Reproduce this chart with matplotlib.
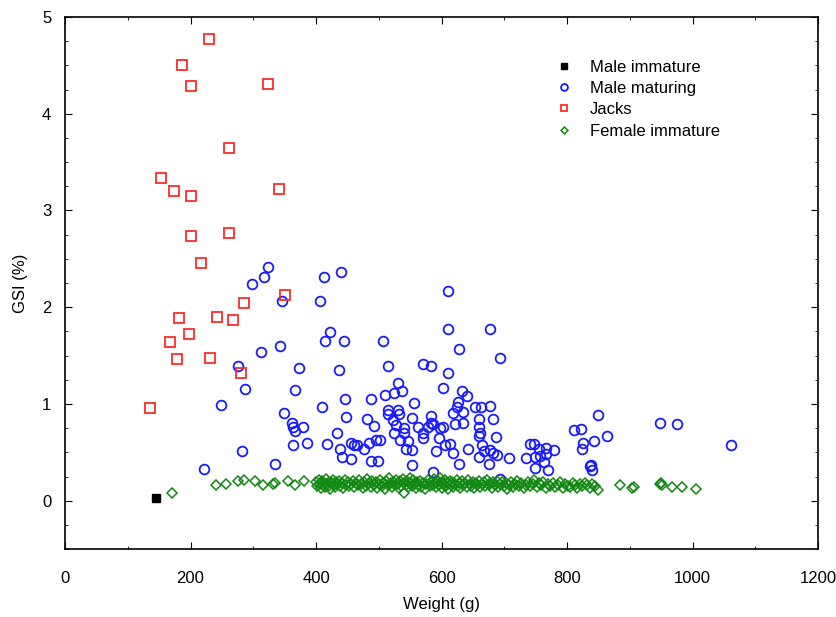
import matplotlib
matplotlib.use("Agg")
import matplotlib.pyplot as plt
from matplotlib.ticker import MultipleLocator

plt.rcParams['font.family'] = ['Liberation Sans', 'DejaVu Sans']

# Male immature
mi_w = [145]
mi_gsi = [0.03]

# Male maturing
mm_w = [323, 317, 298, 412, 440, 346, 407, 422, 414, 444, 313, 343, 276, 373, 437,
        287, 366, 446, 487, 248, 409, 349, 448, 482,
        611, 611, 677, 628, 507, 515, 570, 583, 611, 530, 603, 632, 640, 626, 510,
        524, 537, 556, 624, 653, 515, 530, 515, 532, 553, 583, 618, 635, 659, 492,
        361, 364, 366, 379, 433, 523, 528, 525, 541, 541, 562, 570, 570, 578, 583,
        586, 598, 602, 596, 622, 635, 659, 661, 659, 534, 547, 456, 461, 466, 484,
        495, 502, 476, 439, 418, 386, 364, 442, 455, 487, 498, 543, 553, 592, 605,
        614, 618, 643, 659, 667, 628, 553, 586, 282, 334, 221,
        693, 678, 663, 682, 687, 664, 678, 682, 689, 676, 708, 693, 734, 741, 747,
        749, 756, 757, 767, 767, 779, 764, 770, 749, 811, 822, 850, 826, 824, 843,
        863, 836, 839, 840, 948, 975, 1061]
mm_gsi = [2.42, 2.31, 2.24, 2.31, 2.36, 2.06, 2.06, 1.74, 1.65, 1.65, 1.54, 1.60, 1.39, 1.37, 1.35,
          1.15, 1.14, 1.05, 1.05, 0.99, 0.97, 0.91, 0.87, 0.84,
          2.17, 1.78, 1.78, 1.57, 1.65, 1.39, 1.41, 1.39, 1.32, 1.22, 1.17, 1.13, 1.08, 1.02, 1.09,
          1.11, 1.13, 1.01, 0.97, 0.97, 0.94, 0.94, 0.90, 0.90, 0.86, 0.88, 0.91, 0.92, 0.84, 0.77,
          0.80, 0.76, 0.72, 0.76, 0.70, 0.83, 0.78, 0.70, 0.75, 0.70, 0.76, 0.70, 0.65, 0.76, 0.80,
          0.79, 0.75, 0.76, 0.65, 0.79, 0.80, 0.76, 0.70, 0.67, 0.63, 0.62, 0.60, 0.58, 0.58, 0.60,
          0.63, 0.63, 0.535, 0.535, 0.59, 0.60, 0.58, 0.45, 0.43, 0.41, 0.41, 0.535, 0.52, 0.51, 0.58,
          0.59, 0.49, 0.535, 0.45, 0.51, 0.38, 0.37, 0.30, 0.51, 0.38, 0.33,
          1.48, 0.98, 0.97, 0.84, 0.66, 0.58, 0.52, 0.49, 0.47, 0.38, 0.44, 0.22, 0.44, 0.59, 0.59,
          0.45, 0.535, 0.46, 0.55, 0.48, 0.52, 0.40, 0.32, 0.34, 0.73, 0.74, 0.89, 0.60, 0.535, 0.62,
          0.67, 0.355, 0.37, 0.32, 0.80, 0.79, 0.58]

# Jacks
jk_w = [229, 186, 200, 323, 261, 153, 173, 200, 341, 200, 261, 216, 285, 351, 181,
        242, 268, 198, 167, 179, 231, 280, 136]
jk_gsi = [4.77, 4.50, 4.29, 4.31, 3.65, 3.34, 3.20, 3.15, 3.22, 2.74, 2.77, 2.46, 2.04, 2.13, 1.89,
          1.90, 1.87, 1.72, 1.64, 1.47, 1.48, 1.32, 0.96]

# Female immature
fi_w = [170, 241, 257, 276, 285, 303, 315, 332, 335, 355, 367, 381,
        400, 402, 404, 406, 408, 410, 411, 413, 415, 416, 418, 420, 421, 423, 425, 427, 428, 430,
        432, 434, 436, 438, 441, 443, 446, 448, 451, 453, 456, 459, 461, 464, 467, 469, 472, 475,
        477, 480, 482, 485, 487, 490, 492, 495, 497, 500, 502, 505, 507, 510, 512, 515, 517, 519,
        521, 524, 526, 528, 530, 532, 534, 536, 538, 540, 541, 543, 545, 547, 549, 551, 553, 555,
        557, 559, 561, 563, 566, 568, 571, 573, 576, 578, 581, 583, 586, 588, 590, 592, 594, 596,
        598, 600, 601, 603, 605, 607, 609, 611, 613, 615, 617, 619, 621, 624, 626, 628, 630, 633,
        635, 637, 640, 642, 645, 647, 650, 652, 655, 657, 660, 662, 665, 667, 670, 672, 675, 677,
        680, 682, 685, 688, 690, 693, 696, 699, 702, 705, 708, 711, 714, 717, 720, 724, 727, 731,
        734, 738, 741, 745, 748, 752, 755, 759, 762, 766, 769, 773, 777, 781, 785, 789, 793, 797,
        801, 805, 809, 813, 816, 820, 824, 828, 832, 836, 840, 845, 849,
        884, 904, 906, 948, 950, 952, 967, 983, 1005]
fi_gsi = [0.08, 0.16, 0.17, 0.20, 0.21, 0.20, 0.16, 0.17, 0.18, 0.20, 0.16, 0.20,
          0.19, 0.15, 0.21, 0.17, 0.13, 0.20, 0.16, 0.18, 0.14, 0.22, 0.17, 0.19, 0.15, 0.12, 0.18, 0.21, 0.16, 0.14,
          0.19, 0.17, 0.20, 0.15, 0.18, 0.13, 0.21, 0.16, 0.19, 0.15, 0.17, 0.20, 0.14, 0.18, 0.16, 0.21, 0.17, 0.13,
          0.19, 0.15, 0.22, 0.18, 0.14, 0.20, 0.16, 0.19, 0.13, 0.17, 0.21, 0.15, 0.18, 0.12, 0.20, 0.16, 0.23, 0.18,
          0.14, 0.19, 0.16, 0.21, 0.17, 0.13, 0.20, 0.15, 0.22, 0.18, 0.08, 0.16, 0.20, 0.14, 0.24, 0.18, 0.15, 0.21,
          0.17, 0.13, 0.19, 0.16, 0.20, 0.14, 0.18, 0.12, 0.17, 0.21, 0.15, 0.19, 0.16, 0.22, 0.18, 0.14, 0.20, 0.16,
          0.24, 0.19, 0.13, 0.17, 0.21, 0.15, 0.18, 0.12, 0.20, 0.16, 0.19, 0.14, 0.17, 0.21, 0.15, 0.18, 0.13, 0.20,
          0.16, 0.18, 0.14, 0.21, 0.17, 0.15, 0.19, 0.13, 0.18, 0.16, 0.20, 0.14, 0.17, 0.19, 0.15, 0.21, 0.16, 0.18,
          0.13, 0.19, 0.16, 0.20, 0.14, 0.17, 0.19, 0.15, 0.18, 0.12, 0.16, 0.19, 0.14, 0.17, 0.20, 0.15, 0.18, 0.13,
          0.16, 0.19, 0.15, 0.17, 0.21, 0.14, 0.18, 0.16, 0.19, 0.13, 0.17, 0.15, 0.18, 0.14, 0.16, 0.19, 0.13, 0.17,
          0.15, 0.14, 0.18, 0.16, 0.13, 0.17, 0.15, 0.18, 0.16, 0.13, 0.17, 0.15, 0.11,
          0.16, 0.13, 0.14, 0.17, 0.18, 0.16, 0.14, 0.14, 0.12]

fig = plt.figure(figsize=(8.37, 6.17), dpi=100)
ax = fig.add_axes([0.0777, 0.110, 0.8996, 0.8625])

ax.plot(mi_w, mi_gsi, 's', color='black', ms=6, label='Male immature')
ax.plot(mm_w, mm_gsi, 'o', mfc='none', mec='#1a1aff', mew=1.3, ms=7, label='Male maturing')
ax.plot(jk_w, jk_gsi, 's', mfc='none', mec='#ff2a2a', mew=1.3, ms=7, label='Jacks')
ax.plot(fi_w, fi_gsi, 'D', mfc='none', mec='#118811', mew=1.1, ms=5, label='Female immature')

ax.set_xlim(0, 1200)
ax.set_ylim(-0.5, 5)
ax.xaxis.set_major_locator(MultipleLocator(200))
ax.xaxis.set_minor_locator(MultipleLocator(100))
ax.yaxis.set_major_locator(MultipleLocator(1))
ax.yaxis.set_minor_locator(MultipleLocator(0.25))
ax.tick_params(which='both', direction='in', top=True, right=True, labelsize=12)
ax.tick_params(which='major', length=5)
ax.tick_params(axis='x', which='major', pad=16)
ax.tick_params(axis='y', which='major', pad=10)
ax.tick_params(which='minor', length=2.5)
for s in ax.spines.values():
    s.set_linewidth(1.2)

ax.set_xlabel('Weight (g)', fontsize=12, labelpad=8)
ax.set_ylabel('GSI (%)', fontsize=12, labelpad=10)

ax.legend(loc='upper left', bbox_to_anchor=(0.62, 0.948), frameon=False,
          fontsize=12, handletextpad=0.6, labelspacing=0.38, markerscale=0.7)

fig.savefig('out.png', dpi=100)
